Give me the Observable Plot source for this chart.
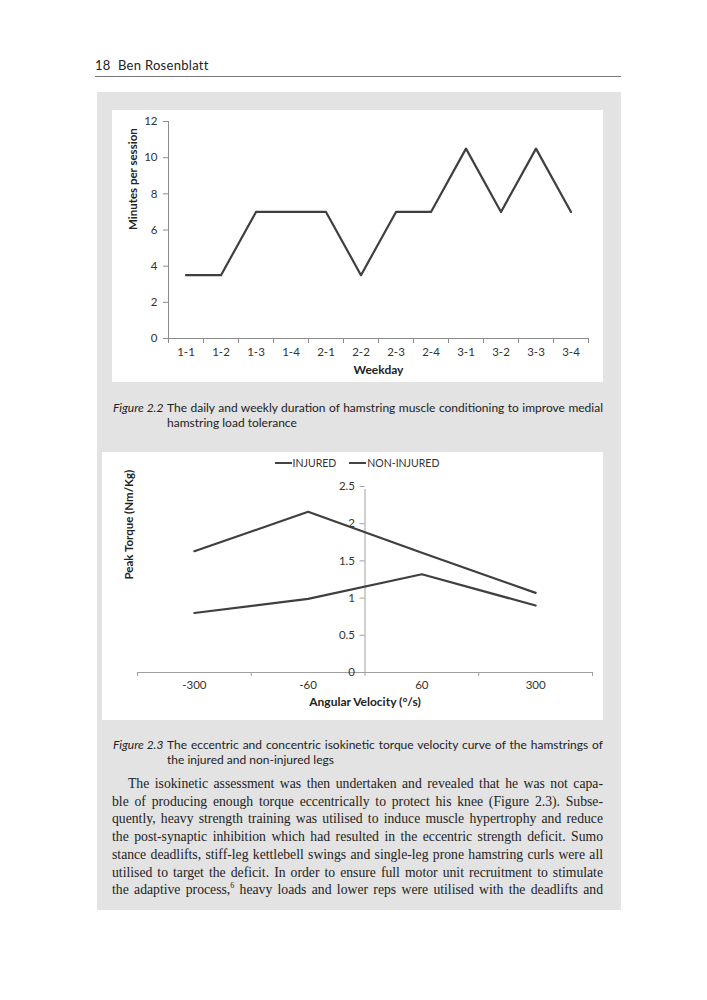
<!DOCTYPE html>
<html><head><meta charset="utf-8">
<script src="https://cdn.jsdelivr.net/npm/d3@7"></script>
<script src="https://cdn.jsdelivr.net/npm/@observablehq/plot@0.6"></script>
<style>
html,body{margin:0;padding:0;background:#fff;}
body{width:707px;height:1000px;position:relative;overflow:hidden;}
.abs{position:absolute;}
#header{left:95px;top:57px;font:13px Lato,sans-serif;color:#222;letter-spacing:0.3px;white-space:pre;}
#rule{left:95px;top:76px;width:526px;height:1px;background:#777;}
#box{left:97px;top:92px;width:524px;height:818px;background:#e3e3e3;}
#p1{left:112px;top:110px;width:491px;height:272px;background:#fff;}
#p2{left:102px;top:452px;width:501px;height:268px;background:#fff;}
#legend{height:22px;display:flex;justify-content:center;align-items:center;font:10.5px Lato,sans-serif;color:#333;padding-left:22px;}
.sw{display:inline-block;width:17px;height:0;border-top:2px solid #444;margin-right:1px;}
.lab{margin-right:13px;}
.cap{font:12px Lato,sans-serif;color:#222;line-height:15px;}
.capl{font-style:italic;}
.jl{text-align:justify;text-align-last:justify;}
#body{left:112px;top:775px;width:491px;font:13.7px "Liberation Serif",serif;color:#222;line-height:17.7px;}
#body div{text-align:justify;text-align-last:justify;}
sup{font-size:8px;line-height:0;}
</style></head>
<body>
<div id="header" class="abs">18  Ben Rosenblatt</div>
<div id="rule" class="abs"></div>
<div id="box" class="abs"></div>
<div id="p1" class="abs"></div>
<div id="p2" class="abs"><div id="legend"></div></div>

<div class="abs cap capl" style="left:113px;top:400px;">Figure 2.2</div>
<div class="abs cap" style="left:167px;top:400px;width:436px;">
<div class="jl">The daily and weekly duration of hamstring muscle conditioning to improve medial</div>
<div>hamstring load tolerance</div></div>

<div class="abs cap capl" style="left:113px;top:737px;">Figure 2.3</div>
<div class="abs cap" style="left:167px;top:737px;width:436px;">
<div class="jl">The eccentric and concentric isokinetic torque velocity curve of the hamstrings of</div>
<div>the injured and non-injured legs</div></div>

<div id="body" class="abs">
<div style="padding-left:16px">The isokinetic assessment was then undertaken and revealed that he was not capa-</div>
<div>ble of producing enough torque eccentrically to protect his knee (Figure 2.3). Subse-</div>
<div>quently, heavy strength training was utilised to induce muscle hypertrophy and reduce</div>
<div>the post-synaptic inhibition which had resulted in the eccentric strength deficit. Sumo</div>
<div>stance deadlifts, stiff-leg kettlebell swings and single-leg prone hamstring curls were all</div>
<div>utilised to target the deficit. In order to ensure full motor unit recruitment to stimulate</div>
<div>the adaptive process,<sup>6</sup> heavy loads and lower reps were utilised with the deadlifts and</div>
</div>

<script>
// ---- Figure 2.2 data ----
const weekdays = ["1-1","1-2","1-3","1-4","2-1","2-2","2-3","2-4","3-1","3-2","3-3","3-4"];
const minutesPerSession = [3.5,3.5,7,7,7,3.5,7,7,10.5,7,10.5,7];
const yTicks1 = [0,2,4,6,8,10,12];
const xTitle1 = "Weekday";
const yTitle1 = "Minutes per session";

// ---- Figure 2.3 data ----
const velocities = ["-300","-60","60","300"];
const injured = [0.80,0.99,1.32,0.90];
const nonInjured = [1.63,2.16,1.61,1.07];
const seriesNames = ["INJURED","NON-INJURED"];
const yTicks2 = [0,0.5,1,1.5,2,2.5];
const xTitle2 = "Angular Velocity (°/s)";
const yTitle2 = "Peak Torque (Nm/Kg)";

const axisColor = "#8c8c8c";
const lineColor = "#3f3f3f";
const txtColor = "#333";

// Chart 1
const d1 = weekdays.map((w,i)=>({i, w, m: minutesPerSession[i]}));
const c1 = Plot.plot({
  width: 491, height: 272,
  marginLeft: 56, marginRight: 15, marginTop: 11, marginBottom: 44,
  style: {fontFamily: "Lato, sans-serif", fontSize: "11px", color: txtColor, background: "transparent", overflow: "visible"},
  x: {domain: [0, weekdays.length], axis: null},
  y: {domain: [0, 12], axis: null},
  marks: [
    Plot.ruleX([0], {stroke: axisColor}),
    Plot.ruleY([0], {stroke: axisColor}),
    Plot.ruleY(yTicks1, {y: d=>d, x1: 0, x2: 0, insetLeft: -5, stroke: axisColor}),
    Plot.text(yTicks1, {y: d=>d, frameAnchor: "left", dx: -11, textAnchor: "end", fill: txtColor, fontSize: 11.5}),
    Plot.ruleX(d3.range(weekdays.length + 1), {x: d=>d, y1: 0, y2: 0, insetBottom: -5, stroke: axisColor}),
    Plot.text(d1, {x: d=>d.i + 0.5, text: "w", frameAnchor: "bottom", dy: 17, fill: txtColor, fontSize: 11.5}),
    Plot.text([xTitle1], {frameAnchor: "bottom", dy: 35, fontWeight: "bold", fill: "#222", fontSize: 12}),
    Plot.text([yTitle1], {frameAnchor: "left", dx: -35, rotate: -90, fontWeight: "bold", fill: "#222", fontSize: 11.5}),
    Plot.line(d1, {x: d=>d.i + 0.5, y: "m", stroke: lineColor, strokeWidth: 2.2})
  ]
});
document.getElementById("p1").appendChild(c1);

// Chart 2
const d2 = velocities.flatMap((v,i)=>[
  {i, v, s: seriesNames[0], t: injured[i]},
  {i, v, s: seriesNames[1], t: nonInjured[i]}
]);
const leg = document.getElementById("legend");
seriesNames.forEach(n=>{
  const sw = document.createElement("span"); sw.className="sw"; leg.appendChild(sw);
  const lb = document.createElement("span"); lb.className="lab"; lb.textContent=n; leg.appendChild(lb);
});
const c2 = Plot.plot({
  width: 501, height: 246,
  marginLeft: 35, marginRight: 11, marginTop: 12, marginBottom: 48,
  style: {fontFamily: "Lato, sans-serif", fontSize: "11px", color: txtColor, background: "transparent", overflow: "visible"},
  x: {domain: [0, velocities.length], axis: null},
  y: {domain: [0, 2.5], axis: null},
  marks: [
    Plot.ruleY([0], {stroke: "#a0a0a0"}),
    Plot.ruleX([velocities.length/2], {y1: 0, y2: 2.5, insetBottom: -3, stroke: "#a0a0a0"}),
    Plot.ruleY(yTicks2, {y: d=>d, x1: velocities.length/2, x2: velocities.length/2, insetLeft: -5, stroke: "#a0a0a0"}),
    Plot.text(yTicks2, {y: d=>d, x: velocities.length/2, dx: -10, textAnchor: "end", fill: txtColor, fontSize: 11.5}),
    Plot.ruleX(d3.range(velocities.length + 1), {x: d=>d, y1: 0, y2: 0, insetBottom: -4, stroke: "#a0a0a0"}),
    Plot.text(velocities, {x: (d,i)=>i + 0.5, text: d=>d, frameAnchor: "bottom", dy: 16, fill: txtColor, fontSize: 11.5}),
    Plot.text([xTitle2], {frameAnchor: "bottom", dy: 33, fontWeight: "bold", fill: "#222", fontSize: 12}),
    Plot.text([yTitle2], {frameAnchor: "left", dx: -8, rotate: -90, fontWeight: "bold", fill: "#222", fontSize: 11.5}),
    Plot.line(d2, {x: d=>d.i + 0.5, y: "t", z: "s", stroke: lineColor, strokeWidth: 2.2})
  ]
});
document.getElementById("p2").appendChild(c2);
</script>
</body></html>
